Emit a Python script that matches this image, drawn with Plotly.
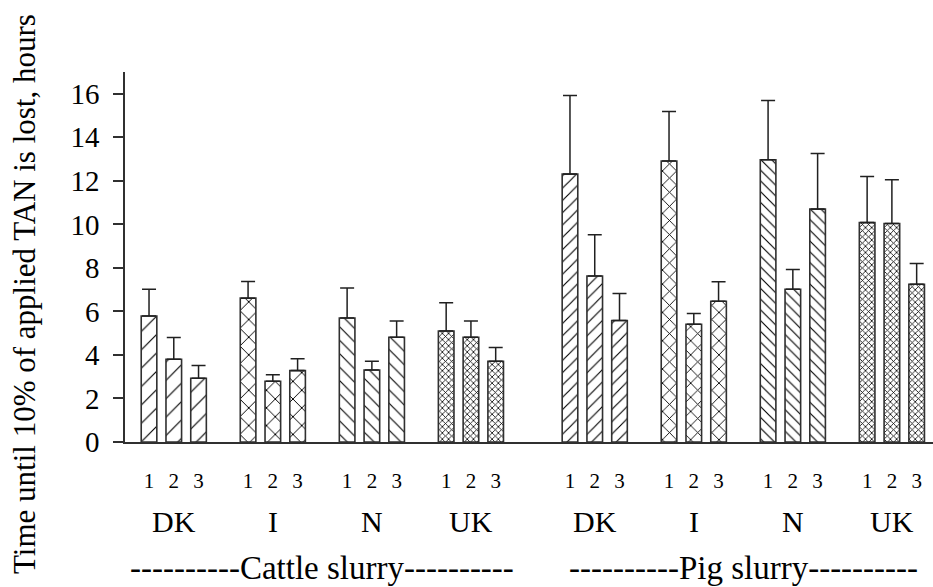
import plotly.graph_objects as go

# ---- data -------------------------------------------------------------
countries = ["DK", "I", "N", "UK"]
slurries = ["Cattle slurry", "Pig slurry"]
treat_labels = ["1", "2", "3"]

cattle_means = {"DK": [5.79, 3.80, 2.93], "I": [6.61, 2.79, 3.28],
                "N": [5.70, 3.31, 4.81], "UK": [5.10, 4.81, 3.71]}
cattle_err = {"DK": [1.23, 1.00, 0.58], "I": [0.76, 0.30, 0.55],
              "N": [1.37, 0.40, 0.75], "UK": [1.30, 0.75, 0.63]}
pig_means = {"DK": [12.31, 7.63, 5.58], "I": [12.91, 5.41, 6.47],
             "N": [12.97, 7.02, 10.70], "UK": [10.08, 10.04, 7.25]}
pig_err = {"DK": [3.61, 1.89, 1.24], "I": [2.28, 0.49, 0.89],
           "N": [2.72, 0.90, 2.56], "UK": [2.12, 2.01, 0.95]}

y_ticks = [0, 2, 4, 6, 8, 10, 12, 14, 16]
y_title = "Time until 10% of applied TAN is lost, hours"

# ---- styles -----------------------------------------------------------
FONT = "Liberation Serif"
pattern_shape = {"DK": "/", "I": "x", "N": "\\", "UK": "x"}
pattern_size = {
    "Cattle slurry": {"DK": 13, "I": 12.5, "N": 9.5, "UK": 4.4},
    "Pig slurry": {"DK": 8.7, "I": 10, "N": 7.6, "UK": 4.4},
}
pattern_solid = {
    "Cattle slurry": {"DK": 0.09, "I": 0.15, "N": 0.12, "UK": 0.33},
    "Pig slurry": {"DK": 0.13, "I": 0.17, "N": 0.15, "UK": 0.33},
}

fig = go.Figure()
tickvals, ticktext = [], []
group_centers = {}
for si, (sl, means, errs) in enumerate([(slurries[0], cattle_means, cattle_err),
                                          (slurries[1], pig_means, pig_err)]):
    centers = []
    for ci, c in enumerate(countries):
        start = si * 17 + ci * 4
        xs = [start + k for k in range(len(treat_labels))]
        tickvals += xs
        ticktext += treat_labels
        centers.append(xs[1])
        fig.add_trace(go.Bar(
            x=xs, y=means[c], width=0.63,
            marker=dict(color="white",
                        line=dict(color="#303030", width=1.6),
                        pattern=dict(shape=pattern_shape[c],
                                     size=pattern_size[sl][c],
                                     solidity=pattern_solid[sl][c],
                                     fgcolor="black", bgcolor="white",
                                     fillmode="replace")),
            error_y=dict(type="data", array=errs[c], arrayminus=[0] * 3,
                         symmetric=False, color="#202020", thickness=1.5, width=7),
            showlegend=False, name=f"{sl} {c}",
        ))
        group_centers[(sl, c)] = xs[1]
    group_centers[sl] = (centers[0] + centers[-1]) / 2

annotations = []
for sl in slurries:
    for c in countries:
        annotations.append(dict(x=group_centers[(sl, c)], xref="x", y=0, yref="paper",
                                yanchor="middle", yshift=-79, text=c, showarrow=False,
                                font=dict(family=FONT, size=30, color="black")))
    annotations.append(dict(x=group_centers[sl], xref="x", y=0, yref="paper",
                            yanchor="middle", yshift=-126,
                            text="----------" + sl + "----------", showarrow=False,
                            font=dict(family=FONT, size=33, color="black")))
annotations.append(dict(x=0, xref="paper", xshift=-101, xanchor="center",
                        y=0.40, yref="paper", yanchor="middle", textangle=-90,
                        text=y_title, showarrow=False,
                        font=dict(family=FONT, size=31, color="black")))

fig.update_layout(
    width=933, height=587,
    margin=dict(l=125, r=0, t=72, b=145),
    paper_bgcolor="white", plot_bgcolor="white",
    barmode="overlay",
    annotations=annotations,
    font=dict(family=FONT, color="black"),
)
fig.update_xaxes(range=[-0.97, 31.66], tickvals=tickvals, ticktext=ticktext,
                 showline=True, linecolor="#303030", linewidth=1.5,
                 ticks="", showgrid=False, zeroline=False,
                 tickfont=dict(family=FONT, size=21, color="black"),
                 ticklabelstandoff=19)
fig.update_yaxes(range=[0, 17], tickvals=y_ticks, showline=True,
                 linecolor="#303030", linewidth=1.5, ticks="outside", ticklen=10,
                 tickwidth=1.5, tickcolor="#303030", showgrid=False, zeroline=False,
                 tickfont=dict(family=FONT, size=29, color="black"),
                 ticklabelstandoff=8)

fig.write_html("out.html")
